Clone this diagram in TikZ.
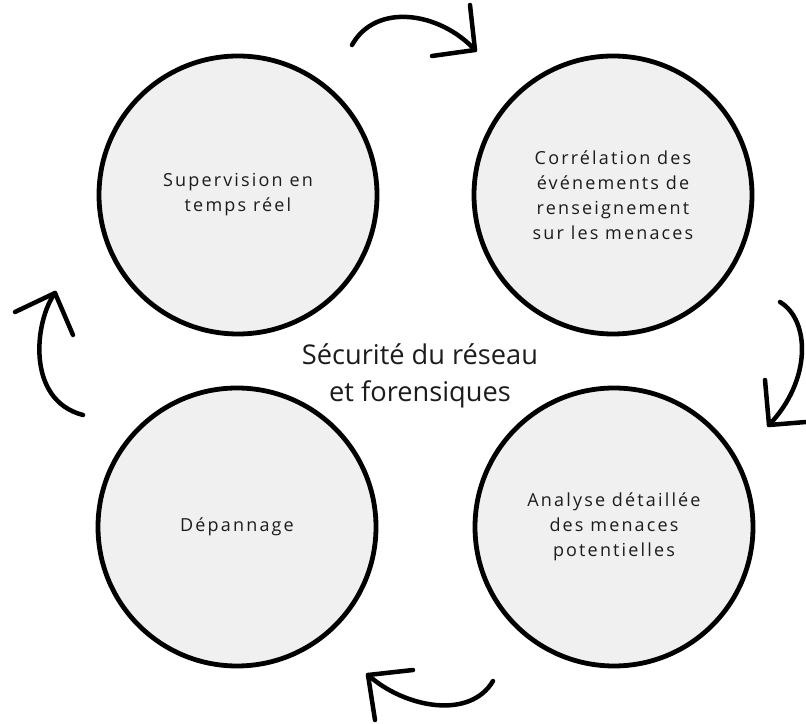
\documentclass[tikz,border=0pt]{standalone}
\usepackage{fontspec}
\setmainfont{Open Sans}
\newfontfamily\spacedfont[LetterSpace=12]{Open Sans}
\definecolor{discfill}{RGB}{240,240,240}
\definecolor{inktext}{RGB}{28,28,28}
\tikzset{cyclearc/.style={line width=4.5pt,line cap=round,line join=round}}

\begin{document}
\begin{tikzpicture}[x=1pt,y=1pt]
      \useasboundingbox (0,0) rectangle (806,723);

      \begin{scope}[every node/.style={circle,draw,line width=4.8pt,fill=discfill,
          minimum size=278pt,inner sep=0pt,align=center,text=inktext,
          font=\spacedfont\fontsize{18}{25}\selectfont}]
        \node (1) at (238,528) {Supervision en\\temps réel};
        \node (2) at (613,528) {Corrélation des\\événements de\\renseignement\\sur les menaces};
        \node (3) at (614,196) {Analyse détaillée\\des menaces\\potentielles};
        \node (4) at (237,196) {Dépannage};
      \end{scope}

      \node[align=center,text=inktext,font=\fontsize{27.2}{37}\selectfont] (5) at (420,347)
        {Sécurité du réseau\\et forensiques};

      % arrow ends and barbs
      \coordinate (1s) at (352,678);  \coordinate (1t) at (475,673);
      \coordinate (1a) at (470,718);  \coordinate (1b) at (432,667);
      \coordinate (2s) at (780,421);  \coordinate (2t) at (769,298);
      \coordinate (2a) at (765,343);  \coordinate (2b) at (806,301);
      \coordinate (3s) at (493,42);   \coordinate (3t) at (368,48);
      \coordinate (3a) at (413,53);   \coordinate (3b) at (375,3);
      \coordinate (4s) at (83,308);   \coordinate (4t) at (55,430);
      \coordinate (4a) at (15,411);   \coordinate (4b) at (73,388);

      \begin{scope}[cyclearc]
        \draw (1s) .. controls (376,721) and (440,711) .. (1t);
        \draw (1a) -- (1t) -- (1b);
        \draw (2s) .. controls (810,403) and (812,343) .. (2t);
        \draw (2a) -- (2t) -- (2b);
        \draw (3s) .. controls (470,3) and (405,15) .. (3t);
        \draw (3a) -- (3t) -- (3b);
        \draw (4s) .. controls (25,323) and (35,403) .. (4t);
        \draw (4a) -- (4t) -- (4b);
      \end{scope}

    \end{tikzpicture}
\end{document}
